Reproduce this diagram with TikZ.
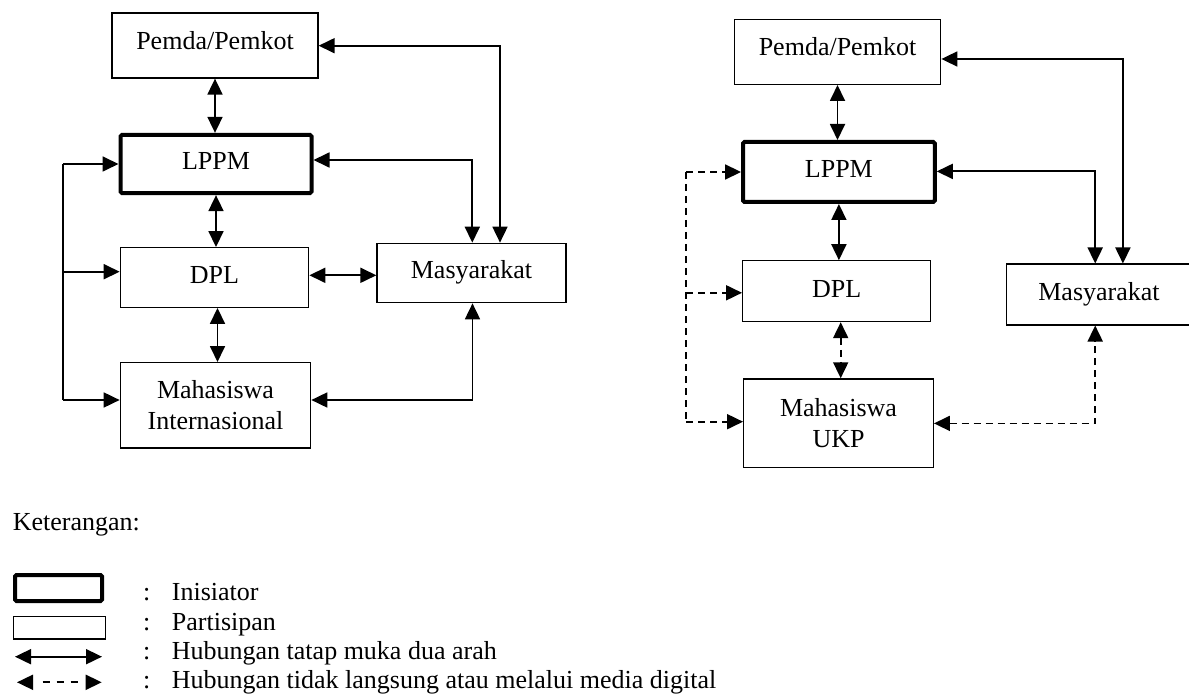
\documentclass[tikz,border=0pt]{standalone}
\usepackage{fontspec}
\setmainfont{Liberation Serif}
\usetikzlibrary{arrows.meta}
\begin{document}
\begin{tikzpicture}[x=1pt,y=-1pt,
  every node/.style={font=\fontsize{26}{31}\selectfont},
  box/.style={draw, line width=1.3pt, inner sep=0pt},
  initbox/.style={draw, line width=4pt, rounded corners=1.5pt, inner sep=0pt},
  one/.style={text height=18pt, text depth=6pt},
  plain/.style={inner sep=0pt},
  link/.style={line width=1.8pt},
  tip/.style={-{Triangle[length=16pt,width=15pt]}},
  both/.style={{Triangle[length=16pt,width=15pt]}-{Triangle[length=16pt,width=15pt]}},
  dig/.style={dash pattern=on 7pt off 5pt},
  legdig/.style={dash pattern=on 0pt off 10pt on 7pt off 7pt on 7pt off 7pt on 7pt off 30pt},
]
\useasboundingbox (0,0) rectangle (1189,695);

% ---------- KKN Internasional ----------
\node[box,one,text depth=10pt,minimum width=206pt,minimum height=65pt] (pemdaL) at (215,45.5) {Pemda/Pemkot};
\node[initbox,one,minimum width=191pt,minimum height=58.3pt] (lppmL) at (216,164) {LPPM};
\node[box,one,minimum width=188.4pt,minimum height=59.6pt] (dplL) at (214.5,277.5) {DPL};
\node[box,align=center,minimum width=190.4pt,minimum height=85.3pt] (mhsL) at (215.5,405.3) {Mahasiswa\\Internasional};
\node[box,one,minimum width=189pt,minimum height=59.4pt] (masL) at (471.5,273) {Masyarakat};

\coordinate (jL1) at (472.3,160);
\coordinate (jL2) at (500,45.7);
\coordinate (jL3) at (472.5,400);
\coordinate (hL) at (0,275.3);
\coordinate (busLtop) at (63.3,164);
\coordinate (busLmid) at (63.3,271.7);
\coordinate (busLbot) at (63.3,400);

\draw[link,both] (pemdaL.south) -- (pemdaL.south |- lppmL.north);
\draw[link,both] (lppmL.south) -- (lppmL.south |- dplL.north);
\draw[link,both] ([xshift=3pt]dplL.south) -- ([xshift=3pt]dplL.south |- mhsL.north);
\draw[link,both] (hL -| dplL.east) -- (hL -| masL.west);
\draw[link,both] (jL1 -| lppmL.east) -- (jL1) -- (jL1 |- masL.north);
\draw[link,both] (jL2 -| pemdaL.east) -- (jL2) -- (jL2 |- masL.north);
\draw[link,both] (jL3 -| mhsL.east) -- (jL3) -- (jL3 |- masL.south);
\draw[link] (busLtop) -- (busLbot);
\draw[link,tip] (busLtop) -- (busLtop -| lppmL.west);
\draw[link,tip] (busLmid) -- (busLmid -| dplL.west);
\draw[link,tip] (busLbot) -- (busLbot -| mhsL.west);

% ---------- KKN UKP ----------
\node[box,one,text depth=10pt,minimum width=206.5pt,minimum height=64.7pt] (pemdaR) at (837.5,52) {Pemda/Pemkot};
\node[initbox,one,minimum width=191.7pt,minimum height=60pt] (lppmR) at (838.9,172) {LPPM};
\node[box,one,minimum width=188pt,minimum height=60.7pt] (dplR) at (836.7,291.2) {DPL};
\node[box,align=center,minimum width=189.6pt,minimum height=88.4pt] (mhsR) at (838.5,423.1) {Mahasiswa\\UKP};
\node[box,minimum width=213pt,minimum height=60.7pt] (masR) at (1113.3,294.5) {};
\node[one,plain] (masRtext) at (1099,294.5) {Masyarakat};

\coordinate (jR1) at (1095.2,171.4);
\coordinate (jR2) at (1122.9,59);
\coordinate (jR3) at (1095.2,423.4);
\coordinate (busRtop) at (686.3,172);
\coordinate (busRmid) at (686.3,292.8);
\coordinate (busRbot) at (686.3,421.7);

\draw[link,both] (pemdaR.south) -- (pemdaR.south |- lppmR.north);
\draw[link,both] (lppmR.south) -- (lppmR.south |- dplR.north);
\draw[link,dig,both] ([xshift=4pt]dplR.south) -- ([xshift=4pt]dplR.south |- mhsR.north);
\draw[link,both] (jR1 -| lppmR.east) -- (jR1) -- (jR1 |- masR.north);
\draw[link,both] (jR2 -| pemdaR.east) -- (jR2) -- (jR2 |- masR.north);
\draw[link,dig,both] (jR3 -| mhsR.east) -- (jR3) -- (jR3 |- masR.south);
\draw[link,dig] (busRtop) -- (busRbot);
\draw[link,dig,tip] (busRtop) -- (busRtop -| lppmR.west);
\draw[link,dig,tip] (busRmid) -- (busRmid -| dplR.west);
\draw[link,dig,tip] (busRbot) -- (busRbot -| mhsR.west);

% ---------- Keterangan ----------
\node[plain,anchor=base west] (ket) at (12.7,530) {Keterangan:};
\node[initbox,minimum width=87pt,minimum height=26pt] (legInit) at (58.5,588) {};
\node[box,minimum width=92.4pt,minimum height=22.3pt] (legPart) at (59.5,627.8) {};
\coordinate (lsA) at (15,656.7);
\coordinate (lsB) at (102,656.7);
\draw[link,both] (lsA) -- (lsB);
\coordinate (ldA) at (17,682.3);
\coordinate (ldB) at (101.7,682.3);
\draw[link,legdig,both] (ldA) -- (ldB);

\foreach \yy/\tt [count=\i] in {600.5/Inisiator, 630/Partisipan, 659/Hubungan tatap muka dua arah, 688.3/Hubungan tidak langsung atau melalui media digital}{
  \node[plain,anchor=base] (colon\i) at (146.7,\yy) {:};
  \node[plain,anchor=base west] (legtext\i) at (171.7,\yy) {\tt};
}
\end{tikzpicture}
\end{document}
